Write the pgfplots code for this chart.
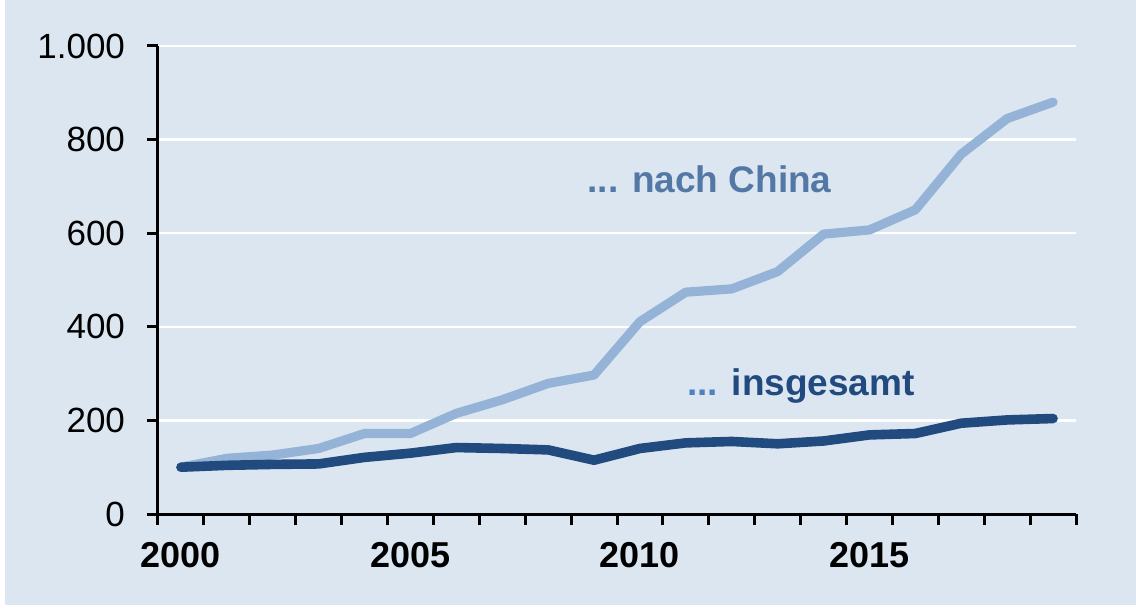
\documentclass[border=0pt]{standalone}
\usepackage{fontspec}
\setmainfont{Liberation Sans}
\usepackage{pgfplots}
\pgfplotsset{compat=1.18}
\definecolor{bgblue}{HTML}{DCE6F1}
\definecolor{chinaline}{HTML}{95B3D7}
\definecolor{totalline}{HTML}{214A7F}
\definecolor{chinatext}{HTML}{5478A5}
\definecolor{dotblue}{HTML}{4F81BD}

\begin{document}
\begin{tikzpicture}
  % 1 px of the reference = 0.5pt, origin at the axis corner
  \fill[white, use as bounding box] (-79pt,-48.5pt) rectangle (489pt,257pt);
  \fill[bgblue] (-76.5pt,-45.5pt) rectangle (489pt,257pt);
  \begin{axis}[
      at={(0pt,0pt)}, anchor=south west,
      scale only axis,
      width=459pt, height=234pt,
      xmin=1999.5, xmax=2019.5,
      ymin=0, ymax=1000,
      axis x line=bottom, axis y line=left,
      axis line style={-, line width=1.5pt, black},
      xtick={2000,2005,2010,2015},
      minor xtick={1999.5,2000.5,2001.5,2002.5,2003.5,2004.5,2005.5,2006.5,2007.5,2008.5,2009.5,2010.5,2011.5,2012.5,2013.5,2014.5,2015.5,2016.5,2017.5,2018.5,2019.5},
      ytick={0,200,400,600,800,1000},
      tick align=outside,
      major tick length=5.5pt, minor tick length=5.5pt,
      tick style={line width=1.5pt, black},
      major x tick style={draw=none},
      ymajorgrids,
      major grid style={white, line width=1.2pt},
      /pgf/number format/assume math mode=true,
      /pgf/number format/1000 sep={.},
      x tick label style={font=\bfseries\fontsize{18}{20}\selectfont, yshift=-5pt, /pgf/number format/set thousands separator={}},
      y tick label style={font=\fontsize{17.5}{20}\selectfont, xshift=-7.5pt},
      clip=false,
    ]
    \addplot[chinaline, line width=4.6pt, line cap=round, line join=round] coordinates {
      (2000,100) (2001,119) (2002,126) (2003,140) (2004,172)
      (2005,172) (2006,215) (2007,244) (2008,279) (2009,297)
      (2010,411) (2011,474) (2012,481) (2013,518) (2014,598)
      (2015,607) (2016,650) (2017,769) (2018,845) (2019,880)
    };
    \addplot[totalline, line width=4.8pt, line cap=round, line join=round] coordinates {
      (2000,100) (2001,104) (2002,106) (2003,107) (2004,121)
      (2005,130) (2006,142) (2007,140) (2008,137) (2009,115)
      (2010,140) (2011,152) (2012,155) (2013,150) (2014,156)
      (2015,169) (2016,172) (2017,194) (2018,201) (2019,204)
    };
    \node[anchor=base west, inner sep=0pt, text=chinatext,
      font=\bfseries\fontsize{18.5}{20}\selectfont]
      at (axis cs:2008.85,688) {... nach China};
    \node[anchor=base west, inner sep=0pt, text=totalline,
      font=\bfseries\fontsize{18.5}{20}\selectfont]
      at (axis cs:2011.02,254) {\textcolor{dotblue}{...} insgesamt};
  \end{axis}
\end{tikzpicture}
\end{document}
